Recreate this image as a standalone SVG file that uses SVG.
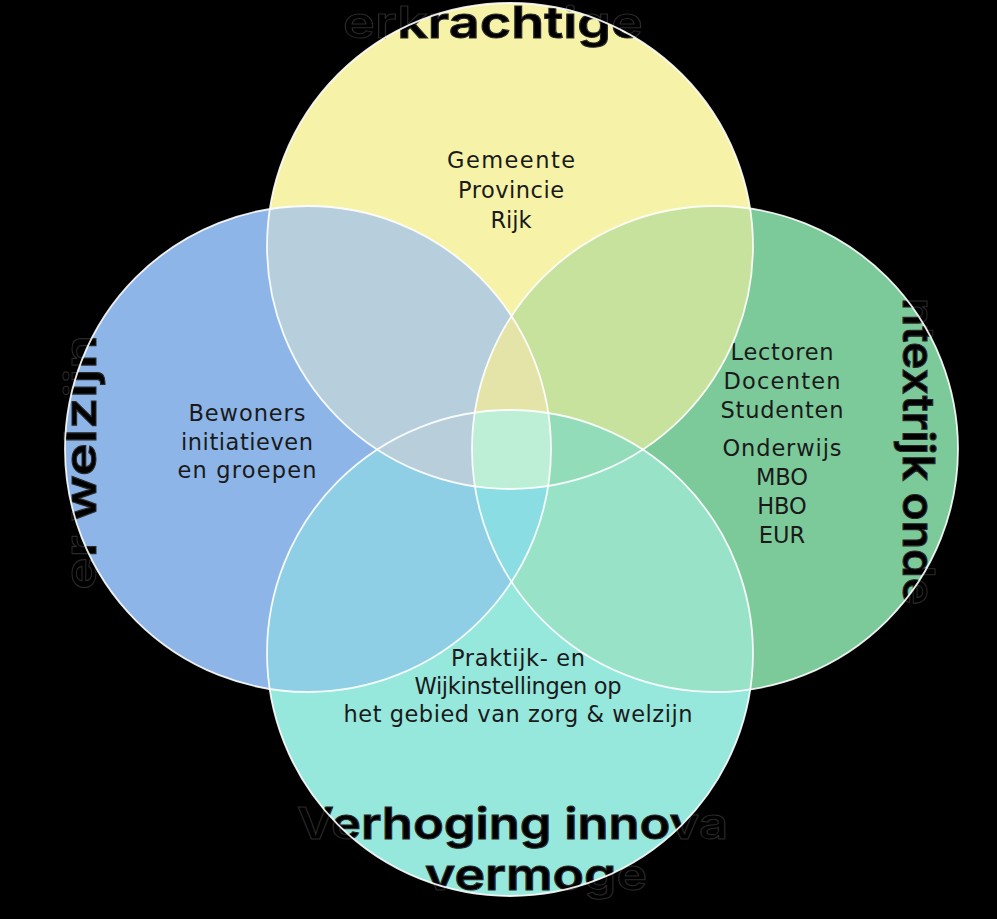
<svg xmlns="http://www.w3.org/2000/svg" width="997" height="919" viewBox="0 0 997 919">
<defs>
<style>
.title{font-family:Inter,"Liberation Sans",sans-serif;font-weight:600;font-size:44px;fill:#000;stroke:#2a2a2a;stroke-width:1}
.lbl{font-family:"DejaVu Sans","Liberation Sans",sans-serif;font-size:22.5px;fill:#1a1a1a;text-anchor:middle}
.ol{fill:none;stroke:#fff;stroke-width:1.8;stroke-opacity:.9}
</style>
<clipPath id="cY"><circle cx="510" cy="246" r="243"/></clipPath>
<clipPath id="cB"><circle cx="308" cy="449" r="243"/></clipPath>
<clipPath id="cG"><circle cx="715" cy="449" r="243"/></clipPath>
<clipPath id="cT"><circle cx="510" cy="653" r="243"/></clipPath>
</defs>
<rect width="997" height="919" fill="#000"/>

<g id="node-top">
<circle cx="510" cy="246" r="243" fill="#F6F3A9"/>
<text class="title" x="343" y="38" textLength="300" lengthAdjust="spacingAndGlyphs">erkrachtige</text>
<text class="lbl" x="511" y="168" textLength="128">Gemeente</text>
<text class="lbl" x="511" y="198" textLength="106">Provincie</text>
<text class="lbl" x="511" y="228">Rijk</text>
</g>

<g id="node-left">
<circle cx="308" cy="449" r="243" fill="#8DB5E8"/>
<text class="title" transform="translate(96,590) rotate(-90)" textLength="255" lengthAdjust="spacingAndGlyphs">er welzijn</text>
<text class="lbl" x="247" y="421" textLength="117">Bewoners</text>
<text class="lbl" x="247" y="450" textLength="132">initiatieven</text>
<text class="lbl" x="247" y="478" textLength="139">en groepen</text>
</g>

<g id="node-right">
<circle cx="715" cy="449" r="243" fill="#7CC99A"/>
<text class="title" transform="translate(903,298) rotate(90)" textLength="307" lengthAdjust="spacingAndGlyphs">ntextrijk onde</text>
<text class="lbl" x="782" y="360" textLength="103">Lectoren</text>
<text class="lbl" x="782" y="389" textLength="117">Docenten</text>
<text class="lbl" x="782" y="418" textLength="123">Studenten</text>
<text class="lbl" x="782" y="456" textLength="119">Onderwijs</text>
<text class="lbl" x="782" y="485">MBO</text>
<text class="lbl" x="782" y="514">HBO</text>
<text class="lbl" x="782" y="543">EUR</text>
</g>

<g id="node-bottom">
<circle cx="510" cy="653" r="243" fill="#96E7DC"/>
<text class="title" x="297" y="839" textLength="431" lengthAdjust="spacingAndGlyphs">Verhoging innova</text>
<text class="title" x="425" y="890" textLength="222" lengthAdjust="spacingAndGlyphs">vermoge</text>
<text class="lbl" x="518" y="666" textLength="134">Praktijk- en</text>
<text class="lbl" x="518" y="694" textLength="207">Wijkinstellingen op</text>
<text class="lbl" x="518" y="722" textLength="349">het gebied van zorg &amp; welzijn</text>
</g>

<g id="connectors">
<circle cx="308" cy="449" r="243" fill="#B7CFDD" clip-path="url(#cY)"/>
<circle cx="715" cy="449" r="243" fill="#C6E29D" clip-path="url(#cY)"/>
<circle cx="510" cy="653" r="243" fill="#8FCFE6" clip-path="url(#cB)"/>
<circle cx="510" cy="653" r="243" fill="#98E2C8" clip-path="url(#cG)"/>
<g clip-path="url(#cY)"><circle cx="510" cy="653" r="243" fill="#B8CEDB" clip-path="url(#cB)"/></g>
<g clip-path="url(#cY)"><circle cx="510" cy="653" r="243" fill="#93DCB9" clip-path="url(#cG)"/></g>
<g clip-path="url(#cB)"><circle cx="715" cy="449" r="243" fill="#E5E4A8" clip-path="url(#cY)"/></g>
<g clip-path="url(#cB)"><circle cx="715" cy="449" r="243" fill="#89DDE3" clip-path="url(#cT)"/></g>
<g clip-path="url(#cB)"><g clip-path="url(#cY)"><circle cx="715" cy="449" r="243" fill="#BDEFD6" clip-path="url(#cT)"/></g></g>
<circle class="ol" cx="510" cy="246" r="243"/>
<circle class="ol" cx="308" cy="449" r="243"/>
<circle class="ol" cx="715" cy="449" r="243"/>
<circle class="ol" cx="510" cy="653" r="243"/>
</g>
</svg>
